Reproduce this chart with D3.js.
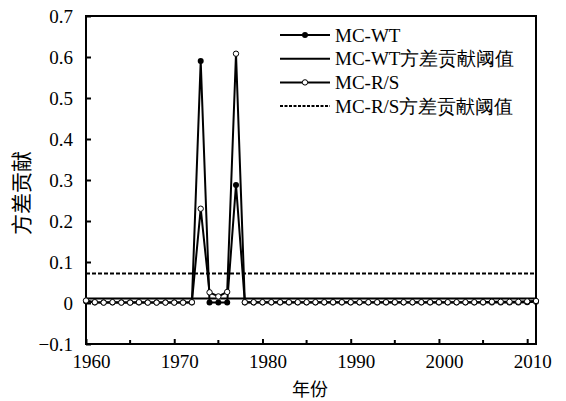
<!DOCTYPE html>
<html>
<head>
<meta charset="utf-8">
<script src="https://cdn.jsdelivr.net/npm/d3@7"></script>
<style>
  body { margin: 0; background: #fff; }
  svg text { font-family: "Liberation Serif", "Times New Roman", "DejaVu Serif", serif; fill: #000; }
  svg text.cjk { font-family: "Noto Sans CJK SC", sans-serif; }
</style>
</head>
<body>
<svg id="chart"></svg>
<script>
// Years on the x axis
const years = [1960, 1961, 1962, 1963, 1964, 1965, 1966, 1967, 1968, 1969,
	1970, 1971, 1972, 1973, 1974, 1975, 1976, 1977, 1978, 1979,
	1980, 1981, 1982, 1983, 1984, 1985, 1986, 1987, 1988, 1989,
	1990, 1991, 1992, 1993, 1994, 1995, 1996, 1997, 1998, 1999,
	2000, 2001, 2002, 2003, 2004, 2005, 2006, 2007, 2008, 2009,
	2010, 2011];

// MC-WT variance contribution
const mcWT = [0.004, 0.001, 0.001, 0.001, 0.001, 0.001, 0.001, 0.001, 0.001, 0.001,
	0.001, 0.001, 0.001, 0.59, 0.001, 0.001, 0.001, 0.288, 0.001, 0.001,
	0.001, 0.001, 0.001, 0.001, 0.001, 0.001, 0.001, 0.001, 0.001, 0.001,
	0.001, 0.001, 0.001, 0.001, 0.001, 0.001, 0.001, 0.001, 0.001, 0.001,
	0.001, 0.001, 0.001, 0.001, 0.001, 0.001, 0.001, 0.001, 0.001, 0.001,
	0.002, 0.003];

// MC-R/S variance contribution
const mcRS = [0.006, 0.002, 0.001, 0.002, 0.001, 0.001, 0.002, 0.001, 0.001, 0.001,
	0.001, 0.001, 0.002, 0.23, 0.026, 0.016, 0.027, 0.608, 0.002, 0.002,
	0.002, 0.002, 0.002, 0.002, 0.002, 0.002, 0.002, 0.002, 0.002, 0.002,
	0.002, 0.002, 0.002, 0.002, 0.002, 0.002, 0.002, 0.002, 0.002, 0.002,
	0.002, 0.002, 0.002, 0.002, 0.002, 0.002, 0.003, 0.003, 0.003, 0.003,
	0.004, 0.005];

// Threshold values
const thresholdWT = 0.011;
const thresholdRS = 0.072;

const xTicks = [1960, 1970, 1980, 1990, 2000, 2010];
const xMinorTicks = [1965, 1975, 1985, 1995, 2005];
const yTicks = [-0.1, 0, 0.1, 0.2, 0.3, 0.4, 0.5, 0.6, 0.7];

const legendLabels = ["MC-WT", "MC-WT方差贡献阈值", "MC-R/S", "MC-R/S方差贡献阈值"];

// Dimensions
const width = 566;
const height = 401;
const margin = { top: 16, right: 30, bottom: 57, left: 86 };

const svg = d3.select("#chart").attr("width", width).attr("height", height);

const x = d3.scaleLinear().domain([1960, 2011]).range([margin.left, width - margin.right]);
const y = d3.scaleLinear().domain([-0.1, 0.7]).range([height - margin.bottom, margin.top]);

// X axis: ticks point inward
const xAxis = svg.append("g")
	.attr("transform", `translate(0,${height - margin.bottom})`)
	.call(d3.axisBottom(x).tickValues(xTicks).tickSize(-5).tickFormat(d3.format("d")));
xAxis.attr("font-family", null);
xAxis.select(".domain").remove();
xAxis.selectAll(".tick line").attr("stroke-width", 2);
xAxis.selectAll(".tick text")
	.attr("font-size", 19)
	.attr("dx", 5)
	.attr("y", 11)
	.attr("dy", "0.71em");

svg.append("g")
	.selectAll("line")
	.data(xMinorTicks)
	.join("line")
	.attr("x1", (d) => x(d))
	.attr("x2", (d) => x(d))
	.attr("y1", height - margin.bottom)
	.attr("y2", height - margin.bottom - 4)
	.attr("stroke", "#000")
	.attr("stroke-width", 2);

// Y axis
const yAxis = svg.append("g")
	.attr("transform", `translate(${margin.left},0)`)
	.call(d3.axisLeft(y).tickValues(yTicks).tickSize(-5)
		.tickFormat((d) => (d === 0 ? "0" : d3.format(".1f")(d))));
yAxis.attr("font-family", null);
yAxis.select(".domain").remove();
yAxis.selectAll(".tick line").attr("stroke-width", 2);
yAxis.selectAll(".tick text")
	.attr("font-size", 19)
	.attr("x", -13);

// Frame
svg.append("rect")
	.attr("x", margin.left)
	.attr("y", margin.top)
	.attr("width", width - margin.left - margin.right)
	.attr("height", height - margin.top - margin.bottom)
	.attr("fill", "none")
	.attr("stroke", "#000")
	.attr("stroke-width", 2);

// Threshold lines
svg.append("line")
	.attr("x1", x(1960)).attr("x2", x(2011))
	.attr("y1", y(thresholdWT)).attr("y2", y(thresholdWT))
	.attr("stroke", "#000").attr("stroke-width", 2);

svg.append("line")
	.attr("x1", x(1960)).attr("x2", x(2011))
	.attr("y1", y(thresholdRS)).attr("y2", y(thresholdRS))
	.attr("stroke", "#000").attr("stroke-width", 2)
	.attr("stroke-dasharray", "4,2");

// Series lines
const line = d3.line().x((d) => x(d[0])).y((d) => y(d[1]));
const wtData = years.map((yr, i) => [yr, mcWT[i]]);
const rsData = years.map((yr, i) => [yr, mcRS[i]]);

svg.append("path").datum(wtData).attr("d", line)
	.attr("fill", "none").attr("stroke", "#000").attr("stroke-width", 2);
svg.append("path").datum(rsData).attr("d", line)
	.attr("fill", "none").attr("stroke", "#000").attr("stroke-width", 2);

// Markers
svg.append("g").selectAll("circle").data(wtData).join("circle")
	.attr("cx", (d) => x(d[0])).attr("cy", (d) => y(d[1])).attr("r", 3)
	.attr("fill", "#000");
svg.append("g").selectAll("circle").data(rsData).join("circle")
	.attr("cx", (d) => x(d[0])).attr("cy", (d) => y(d[1])).attr("r", 2.7)
	.attr("fill", "#fff").attr("stroke", "#000").attr("stroke-width", 1);

// Axis titles
svg.append("text")
	.attr("class", "cjk")
	.attr("x", 310).attr("y", 388)
	.attr("text-anchor", "middle").attr("dominant-baseline", "central")
	.attr("font-size", 18)
	.text("年份");

svg.append("text")
	.attr("class", "cjk")
	.attr("transform", "translate(20,193) rotate(-90)")
	.attr("text-anchor", "middle").attr("dominant-baseline", "central")
	.attr("font-size", 21)
	.text("方差贡献");

// Legend
const legend = svg.append("g").attr("transform", "translate(280,35)");
const rowH = 23.7;
legend.selectAll("line")
	.data(legendLabels)
	.join("line")
	.attr("x1", 0).attr("x2", 50)
	.attr("y1", (d, i) => i * rowH).attr("y2", (d, i) => i * rowH)
	.attr("stroke", "#000")
	.attr("stroke-width", 2)
	.attr("stroke-dasharray", (d, i) => (i === 3 ? "3,1.5" : null));
legend.append("circle").attr("cx", 25).attr("cy", 0).attr("r", 3).attr("fill", "#000");
legend.append("circle").attr("cx", 25).attr("cy", 2 * rowH).attr("r", 2.7)
	.attr("fill", "#fff").attr("stroke", "#000").attr("stroke-width", 1);
legend.selectAll("text")
	.data(legendLabels)
	.join("text")
	.attr("x", 55)
	.attr("y", (d, i) => i * rowH)
	.attr("dominant-baseline", "central")
	.attr("font-size", 19)
	.text((d) => d);
</script>
</body>
</html>
